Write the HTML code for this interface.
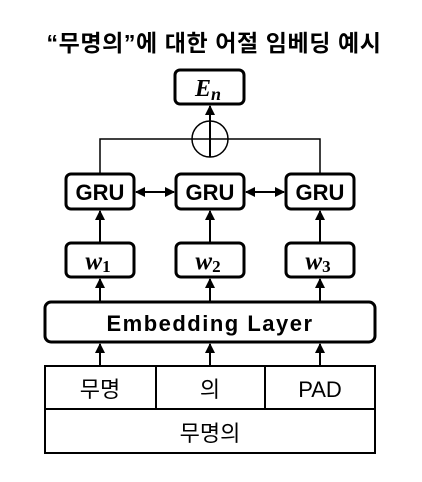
<!DOCTYPE html>
<html><head><meta charset="utf-8"><style>
body{margin:0;background:#fff;width:422px;height:477px;overflow:hidden}
</style></head><body>
<svg width="422" height="477" xmlns="http://www.w3.org/2000/svg">
<defs><marker id="a" markerWidth="10" markerHeight="10" refX="9" refY="5" orient="auto-start-reverse" markerUnits="userSpaceOnUse"><path d="M0,0 L10,5 L0,10 Z" fill="#000"/></marker></defs>
<text x="214" y="51" text-anchor="middle" font-family="'Liberation Sans','Noto Sans CJK KR',sans-serif" font-weight="bold" font-size="23" letter-spacing="0.6">“무명의”에 대한 어절 임베딩 예시</text>
<g fill="none" stroke="#000">
<rect x="175" y="70" width="69" height="34" rx="5" stroke-width="3"/>
<circle cx="210" cy="139" r="18" stroke-width="1.5"/>
<path d="M100,174 V139 H320 V174" stroke-width="1.5"/>
<line x1="210" y1="157" x2="210" y2="106" stroke-width="2" marker-end="url(#a)"/>
<line x1="210" y1="121" x2="210" y2="157" stroke-width="1.5"/>
<rect x="66" y="174" width="68" height="35" rx="5" stroke-width="3"/>
<rect x="176" y="174" width="68" height="35" rx="5" stroke-width="3"/>
<rect x="286" y="174" width="68" height="35" rx="5" stroke-width="3"/>
<line x1="136" y1="192" x2="174" y2="192" stroke-width="2" marker-start="url(#a)" marker-end="url(#a)"/>
<line x1="246" y1="192" x2="284" y2="192" stroke-width="2" marker-start="url(#a)" marker-end="url(#a)"/>
<rect x="66" y="243" width="68" height="34" rx="5" stroke-width="3"/>
<rect x="176" y="243" width="68" height="34" rx="5" stroke-width="3"/>
<rect x="286" y="243" width="68" height="34" rx="5" stroke-width="3"/>
<line x1="100" y1="243" x2="100" y2="211" stroke-width="2" marker-end="url(#a)"/>
<line x1="210" y1="243" x2="210" y2="211" stroke-width="2" marker-end="url(#a)"/>
<line x1="320" y1="243" x2="320" y2="211" stroke-width="2" marker-end="url(#a)"/>
<rect x="45" y="302" width="330" height="40" rx="6" stroke-width="3"/>
<line x1="100" y1="302" x2="100" y2="279" stroke-width="2" marker-end="url(#a)"/>
<line x1="210" y1="302" x2="210" y2="279" stroke-width="2" marker-end="url(#a)"/>
<line x1="320" y1="302" x2="320" y2="279" stroke-width="2" marker-end="url(#a)"/>
<line x1="100" y1="366" x2="100" y2="344" stroke-width="2" marker-end="url(#a)"/>
<line x1="210" y1="366" x2="210" y2="344" stroke-width="2" marker-end="url(#a)"/>
<line x1="320" y1="366" x2="320" y2="344" stroke-width="2" marker-end="url(#a)"/>
<rect x="45" y="366" width="330" height="87" stroke-width="2"/>
<line x1="45" y1="409" x2="375" y2="409" stroke-width="2"/>
<line x1="156" y1="366" x2="156" y2="409" stroke-width="2"/>
<line x1="265" y1="366" x2="265" y2="409" stroke-width="2"/>
</g>
<g font-family="'Liberation Serif',serif" font-style="italic" font-weight="bold" text-anchor="middle">
<text x="208" y="96" font-size="24">E<tspan font-size="18" dy="4">n</tspan></text>
<text x="98" y="269" font-size="25">w<tspan font-size="17" font-style="normal" dy="3">1</tspan></text>
<text x="208" y="269" font-size="25">w<tspan font-size="17" font-style="normal" dy="3">2</tspan></text>
<text x="318" y="269" font-size="25">w<tspan font-size="17" font-style="normal" dy="3">3</tspan></text>
</g>
<g font-family="'Liberation Sans','Noto Sans CJK KR',sans-serif" text-anchor="middle">
<text x="100" y="200" font-size="22" font-weight="bold">GRU</text>
<text x="210" y="200" font-size="22" font-weight="bold">GRU</text>
<text x="320" y="200" font-size="22" font-weight="bold">GRU</text>
<text x="210" y="331" font-size="22" font-weight="bold" letter-spacing="1.5">Embedding Layer</text>
<text x="100" y="397" font-size="22">무명</text>
<text x="210" y="397" font-size="22">의</text>
<text x="320" y="397" font-size="22">PAD</text>
<text x="210" y="441" font-size="22">무명의</text>
</g>
</svg>
</body></html>
